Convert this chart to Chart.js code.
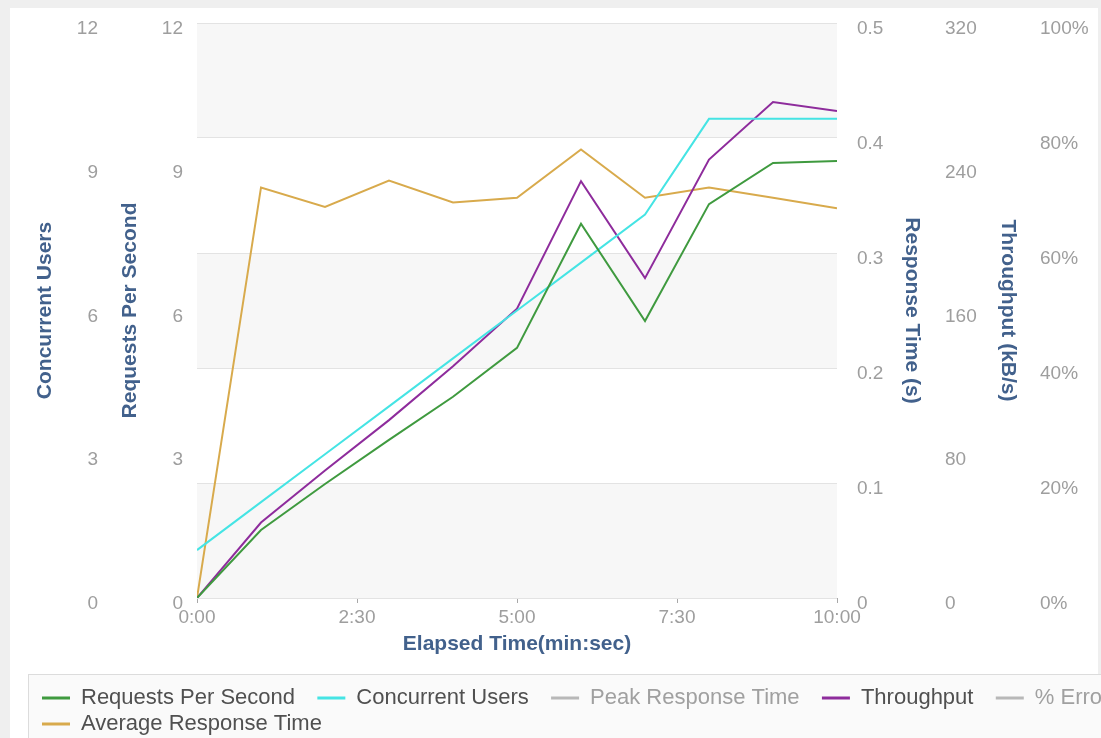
<!DOCTYPE html>
<html>
<head>
<meta charset="utf-8">
<script src="https://cdn.jsdelivr.net/npm/chart.js@4.4.1/dist/chart.umd.min.js"></script>
<style>
    html, body { margin: 0; padding: 0; background: #efefef; overflow: hidden; }
    #card { position: absolute; left: 10px; top: 8px; width: 1088px; height: 730px; background: #fff; }
    #wrap { position: absolute; left: 0; top: 0; width: 1101px; height: 738px; overflow: hidden; }
    #chart { display: block; }
</style>
</head>
<body>
<div id="card"></div>
<div id="wrap"><canvas id="chart" width="1200" height="745"></canvas></div>
<script>
// elapsed time of each sample, in seconds
const elapsedSeconds = [0, 60, 120, 180, 240, 300, 360, 420, 480, 540, 600];
const requestsPerSecond = [0, 1.42, 2.38, 3.3, 4.2, 5.22, 7.81, 5.78, 8.22, 9.08, 9.12];
const concurrentUsers = [1, 2, 3, 4, 5, 6, 7, 8, 10, 10, 10];
const peakResponseTime = [];
const throughputKBs = [0, 42, 71, 99, 129, 161, 232, 178, 244, 276, 271];
const errorPercent = [];
const avgResponseTime = [0, 0.357, 0.340, 0.363, 0.344, 0.348, 0.390, 0.348, 0.357, 0.348, 0.339];

const timeTicks = [0, 150, 300, 450, 600];
const timeTickLabels = ['0:00', '2:30', '5:00', '7:30', '10:00'];

const FONT = '"Liberation Sans", Arial, sans-serif';
const tickFont = { family: FONT, size: 19 };
const titleFont = { family: FONT, size: 21, weight: 'bold', lineHeight: 1 };
const tickColor = '#9e9e9e';
const titleColor = '#42618c';

const points = values => values.map((v, i) => ({ x: elapsedSeconds[i], y: v }));

// background bands + legend frame
const backdropPlugin = {
    id: 'backdrop',
    beforeDraw(chart) {
        const { ctx, chartArea, scales } = chart;
        const lg = chart.legend;
        ctx.save();
        ctx.fillStyle = '#fafafa';
        ctx.fillRect(lg.left - 10, lg.top - 9, chart.width, 120);
        ctx.strokeStyle = '#dcdcdc';
        ctx.lineWidth = 1;
        ctx.strokeRect(lg.left - 9.5, lg.top - 8.5, chart.width, 120);

        const yResp = scales.yResp;
        const ticks = yResp.ticks;
        ctx.fillStyle = '#f7f7f7';
        for (let i = 0; i + 1 < ticks.length; i += 2) {
            const y0 = yResp.getPixelForValue(ticks[i].value);
            const y1 = yResp.getPixelForValue(ticks[i + 1].value);
            ctx.fillRect(chartArea.left, y1, chartArea.right - chartArea.left, y0 - y1);
        }
        ctx.restore();
    }
};

const yAxis = (position, weight, max, step, title, titlePad, width, tickPad) => ({
    position: position,
    weight: weight,
    min: 0,
    max: max,
    ticks: { stepSize: step, font: tickFont, color: tickColor, padding: tickPad, labelOffset: 6 },
    grid: { display: false, drawTicks: false },
    border: { display: false },
    title: {
        display: !!title,
        text: title,
        font: titleFont,
        color: titleColor,
        padding: { top: titlePad, bottom: 0 }
    },
    afterFit: scale => {
        scale.width = width;
        scale.paddingTop = 0;
        scale.paddingBottom = 0;
    }
});

const scales = {
    x: {
        type: 'linear',
        min: 0,
        max: 600,
        afterBuildTicks: scale => { scale.ticks = timeTicks.map(v => ({ value: v })); },
        ticks: {
            font: tickFont,
            color: tickColor,
            padding: 3,
            maxRotation: 0,
            autoSkip: false,
            callback: (value, index) => timeTickLabels[index]
        },
        grid: { drawOnChartArea: false, drawTicks: true, tickLength: 5, tickColor: '#a8a8a8' },
        border: { display: false },
        title: {
            display: true,
            text: 'Elapsed Time(min:sec)',
            font: titleFont,
            color: titleColor,
            padding: { top: 0, bottom: 28 }
        },
        afterFit: scale => { scale.height = 85; }
    },
    yConc: yAxis('left', 2, 12, 3, 'Concurrent Users', -3, 74, 14),
    yReq: yAxis('left', 1, 12, 3, 'Requests Per Second', 8, 85, 14),
    yResp: yAxis('right', 1, 0.5, 0.1, 'Response Time (s)', 3, 88, 20),
    yThr: yAxis('right', 2, 320, 80, 'Throughput (kB/s)', 3, 96, 20),
    yPct: yAxis('right', 3, 100, 20, '', 0, 179, 19)
};
scales.yResp.grid = { display: true, drawTicks: false, color: '#e3e3e3' };
scales.yPct.ticks.callback = v => v + '%';

new Chart(document.getElementById('chart'), {
    type: 'line',
    data: {
        datasets: [
            { label: 'Requests Per Second', data: points(requestsPerSecond), yAxisID: 'yReq',
              borderColor: '#3f9a3f', backgroundColor: '#3f9a3f' },
            { label: 'Concurrent Users', data: points(concurrentUsers), yAxisID: 'yConc',
              borderColor: '#45e4e4', backgroundColor: '#45e4e4' },
            { label: 'Peak Response Time', data: points(peakResponseTime), yAxisID: 'yResp',
              borderColor: '#b8b8b8', backgroundColor: '#b8b8b8' },
            { label: 'Throughput', data: points(throughputKBs), yAxisID: 'yThr',
              borderColor: '#8e2c9c', backgroundColor: '#8e2c9c' },
            { label: '% Errors', data: points(errorPercent), yAxisID: 'yPct',
              borderColor: '#b8b8b8', backgroundColor: '#b8b8b8' },
            { label: 'Average Response Time', data: points(avgResponseTime), yAxisID: 'yResp',
              borderColor: '#d8aa4c', backgroundColor: '#d8aa4c' }
        ]
    },
    options: {
        responsive: false,
        animation: false,
        layout: { padding: { left: 38, top: 23, right: 0, bottom: 0 } },
        elements: {
            point: { radius: 0 },
            line: { borderWidth: 2, tension: 0 }
        },
        plugins: {
            tooltip: { enabled: false },
            legend: {
                position: 'bottom',
                align: 'start',
                labels: {
                    font: { family: FONT, size: 22 },
                    color: '#505050',
                    boxWidth: 28,
                    boxHeight: 3,
                    padding: 4,
                    generateLabels: chart => {
                        const items = Chart.defaults.plugins.legend.labels.generateLabels(chart);
                        return items.map(item => {
                            const empty = chart.data.datasets[item.datasetIndex].data.length === 0;
                            return Object.assign(item, {
                                text: item.text + '   ',
                                lineWidth: 0,
                                fontColor: empty ? '#a0a0a0' : '#505050'
                            });
                        });
                    }
                }
            }
        },
        scales: scales
    },
    plugins: [backdropPlugin]
});
</script>
</body>
</html>
